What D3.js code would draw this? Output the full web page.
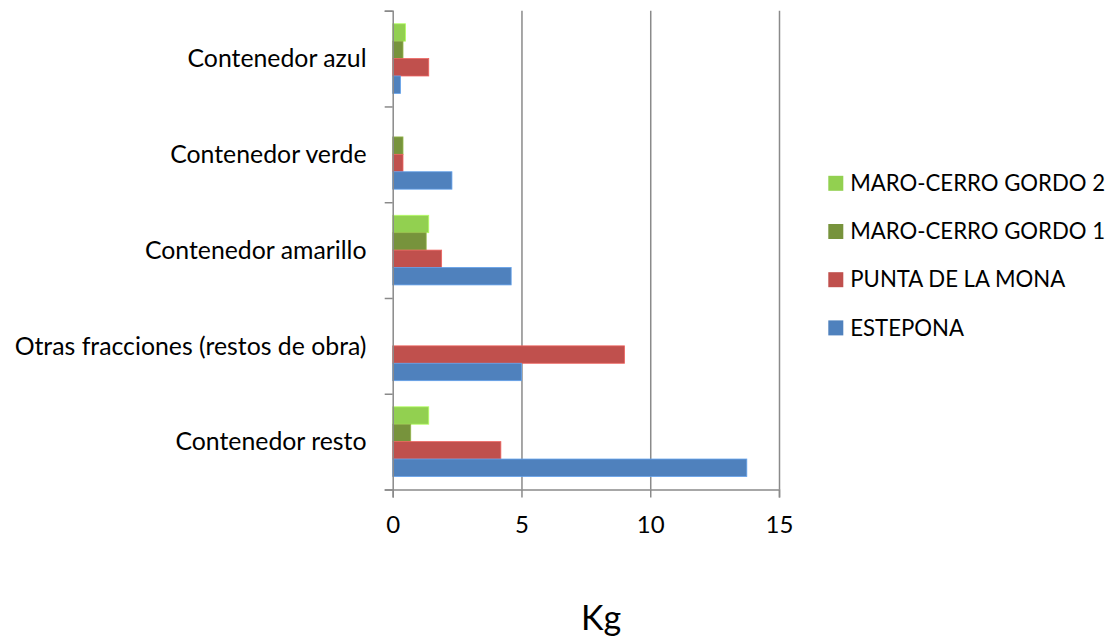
<!DOCTYPE html>
<html>
<head>
<meta charset="utf-8">
<script src="https://cdn.jsdelivr.net/npm/d3@7"></script>
<style>
  html, body { margin: 0; padding: 0; background: #fff; }
  svg { display: block; font-family: Lato, "Open Sans", sans-serif; }
</style>
</head>
<body>
<svg id="chart" width="1113" height="637"></svg>
<script>
// ---- data ----
const categories = ["Contenedor azul", "Contenedor verde", "Contenedor amarillo", "Otras fracciones (restos de obra)", "Contenedor resto"];
const seriesNames = ["MARO-CERRO GORDO 2", "MARO-CERRO GORDO 1", "PUNTA DE LA MONA", "ESTEPONA"];
const seriesColors = ["#92D050", "#77933C", "#C0504D", "#4F81BD"];
const maroCerroGordo2 = [0.5, 0, 1.4, 0, 1.4];
const maroCerroGordo1 = [0.4, 0.4, 1.3, 0, 0.7];
const puntaDeLaMona   = [1.4, 0.4, 1.9, 9.0, 4.2];
const estepona        = [0.3, 2.3, 4.6, 5.0, 13.75];
const seriesValues = [maroCerroGordo2, maroCerroGordo1, puntaDeLaMona, estepona];
const xTicks = [0, 5, 10, 15];
const xTitle = "Kg";

// ---- layout ----
const svg = d3.select("#chart");
const plot = { left: 392.7, right: 779, top: 10.7, bottom: 489.5 };

const x = d3.scaleLinear().domain([0, 15]).range([plot.left, plot.right]);
const y = d3.scaleBand().domain(categories).range([plot.top, plot.bottom]).padding(0);
const bw = y.bandwidth();
const inner = d3.scaleBand().domain(seriesNames).range([bw * 0.1364, bw * (1 - 0.1364)]).padding(0);

// gridlines
const grid = svg.append("g").attr("transform", `translate(0,${plot.bottom})`)
  .call(d3.axisBottom(x).tickValues(xTicks.filter(d => d > 0)).tickSize(-(plot.bottom - plot.top)).tickFormat(""));
grid.select(".domain").remove();
grid.selectAll("line").attr("stroke", "#8a8a8a").attr("stroke-width", 1.5);

// bars
const table = [];
categories.forEach((c, i) => seriesNames.forEach((s, j) => table.push({ c, s, v: seriesValues[j][i], color: seriesColors[j] })));
svg.append("g").selectAll("rect").data(table.filter(d => d.v > 0)).join("rect")
  .attr("x", x(0))
  .attr("y", d => y(d.c) + inner(d.s))
  .attr("width", d => x(d.v) - x(0))
  .attr("height", inner.bandwidth())
  .attr("fill", d => d.color)
  .attr("stroke", d => d3.color(d.color).brighter(0.6))
  .attr("stroke-width", 0.8);

// x axis
const xAxis = svg.append("g").attr("transform", `translate(0,${plot.bottom})`)
  .call(d3.axisBottom(x).tickValues(xTicks).tickSize(8).tickPadding(18));
xAxis.select(".domain").attr("stroke", "#8a8a8a").attr("stroke-width", 1.5);
xAxis.selectAll("line").attr("stroke", "#8a8a8a").attr("stroke-width", 1.5);
xAxis.selectAll("text").attr("font-size", 24).attr("fill", "#000").attr("font-family", "Lato, sans-serif");

// y axis (ticks at band boundaries)
const yb = d3.scaleLinear().domain([0, categories.length]).range([plot.top, plot.bottom]);
const yAxis = svg.append("g").attr("transform", `translate(${plot.left},0)`)
  .call(d3.axisLeft(yb).ticks(categories.length).tickSize(8).tickFormat(""));
yAxis.select(".domain").attr("stroke", "#8a8a8a").attr("stroke-width", 1.5);
yAxis.selectAll("line").attr("stroke", "#8a8a8a").attr("stroke-width", 1.5);

// category labels
const catLabels = svg.append("g").selectAll("text").data(categories).join("text")
  .attr("x", 366.5)
  .attr("y", d => y(d) + bw / 2)
  .attr("dy", "0.35em")
  .attr("text-anchor", "end")
  .attr("font-size", 22)
  .attr("fill", "#000")
  .text(d => d);
// fit font size to reference width of the longest label
{
  const n = catLabels.filter((d, i) => i === 3).node();
  const w = n.getComputedTextLength();
  catLabels.attr("font-size", 22 * 352 / w);
}

// legend
const leg = svg.append("g");
const legRows = leg.selectAll("g").data(seriesNames).join("g")
  .attr("transform", (d, i) => `translate(828.3,${183.3 + i * 48.2})`);
legRows.append("rect").attr("x", 0).attr("y", -7.5).attr("width", 15).attr("height", 15)
  .attr("fill", (d, i) => seriesColors[i]);
const legText = legRows.append("text").attr("x", 22).attr("dy", "0.35em")
  .attr("font-size", 22).attr("fill", "#000").text(d => d);
{
  const w = legText.filter((d, i) => i === 0).node().getComputedTextLength();
  legText.attr("font-size", 22 * 255 / w);
}

// x title
svg.append("text").attr("x", 601).attr("y", 630).attr("text-anchor", "middle")
  .attr("font-size", 34).attr("fill", "#000").text(xTitle);
</script>
</body>
</html>
